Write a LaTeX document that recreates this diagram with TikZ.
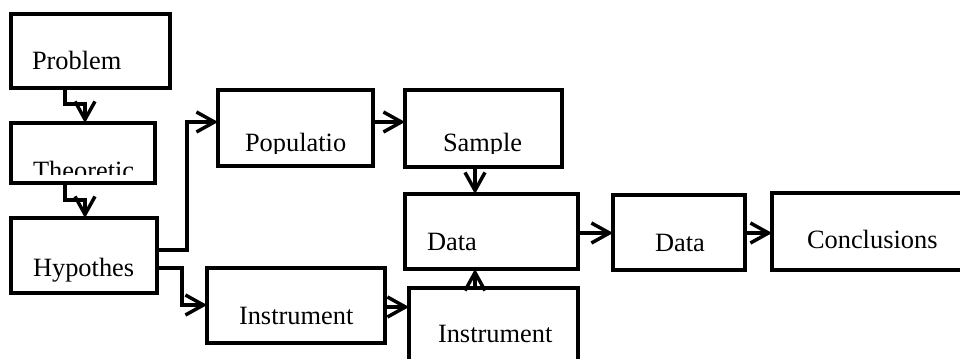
\documentclass[tikz,border=0pt]{standalone}
\usepackage{fontspec}
\setmainfont{Liberation Serif}
\usetikzlibrary{arrows.meta,fit}
\begin{document}
\begin{tikzpicture}[x=0.75pt,y=-0.75pt,
  box/.style={draw=black,line width=2.7pt,inner sep=0pt,outer sep=0pt,rectangle},
  lbl/.style={anchor=base west,inner sep=0pt,outer sep=0pt,font=\fontsize{19.8}{23}\selectfont},
  conn/.style={draw=black,line width=2.6pt,line join=miter,-{Straight Barb[length=13.5pt,width=15pt]}}]
\useasboundingbox (0,0) rectangle (960,359);
\fill[white] (0,0) rectangle (960,359);
\clip (0,0) rectangle (960,359);
% boxes
\node[box,fit={(11,14) (170,88)}] (problem) {};
\node[box,fit={(11,123) (155,183)}] (theor) {};
\node[box,fit={(11,218) (157,293)}] (hyp) {};
\node[box,fit={(218,90) (373,166)}] (pop) {};
\node[box,fit={(405,90) (562,167)}] (sample) {};
\node[box,fit={(405,194) (578,269)}] (data1) {};
\node[box,fit={(207,268) (385,343)}] (ins1) {};
\node[box,fit={(409,288) (578,390)}] (ins2) {};
\node[box,fit={(613,195) (745,270)}] (data2) {};
\node[box,fit={(772,193) (990,270)}] (concl) {};
% labels
\node[lbl] (tproblem) at (32,70) {Problem};
\begin{scope}
  \clip (12,124) rectangle (154,175);
  \node[lbl] (ttheor) at (33,180) {Theoretic};
\end{scope}
\node[lbl] (thyp) at (33,277) {Hypothes};
\begin{scope}
  \clip (219,91) rectangle (372,154);
  \node[lbl] (tpop) at (245,152) {Populatio};
\end{scope}
\begin{scope}
  \clip (406,91) rectangle (561,154);
  \node[lbl] (tsample) at (443,152) {Sample};
\end{scope}
\node[lbl] (tdata1) at (427,251) {Data};
\node[lbl] (tins1) at (239,325) {Instrument};
\node[lbl] (tins2) at (438,343) {Instrument};
\node[lbl] (tdata2) at (655,252) {Data};
\node[lbl] (tconcl) at (807,249) {Conclusions};
% helper coordinates
\coordinate (c1) at (65,0);
\coordinate (c2) at (85,0);
\coordinate (h1) at (0,250);
\coordinate (k1) at (187,122);
\coordinate (h2) at (0,268);
\coordinate (k2) at (182,305);
\coordinate (k3) at (475,0);
\coordinate (k4) at (0,307);
\coordinate (k5) at (0,233);
% connectors
\draw[conn] (problem.south -| c1) -- ++(0,16) -| (theor.north -| c2);
\draw[conn] (theor.south -| c1) -- ++(0,17) -| (hyp.north -| c2);
\draw[conn] (hyp.east |- h1) -| (k1) -- (pop.west |- k1);
\draw[conn] (hyp.east |- h2) -| (k2) -- (ins1.west |- k2);
\draw[conn] (pop.east |- k1) -- (sample.west |- k1);
\draw[conn] (sample.south -| k3) -- (data1.north -| k3);
\draw[conn] (ins1.east |- k4) -- (ins2.west |- k4);
\draw[conn] (ins2.north -| k3) -- (data1.south -| k3);
\draw[conn] (data1.east |- k5) -- (data2.west |- k5);
\draw[conn] (data2.east |- k5) -- (concl.west |- k5);
\end{tikzpicture}
\end{document}
